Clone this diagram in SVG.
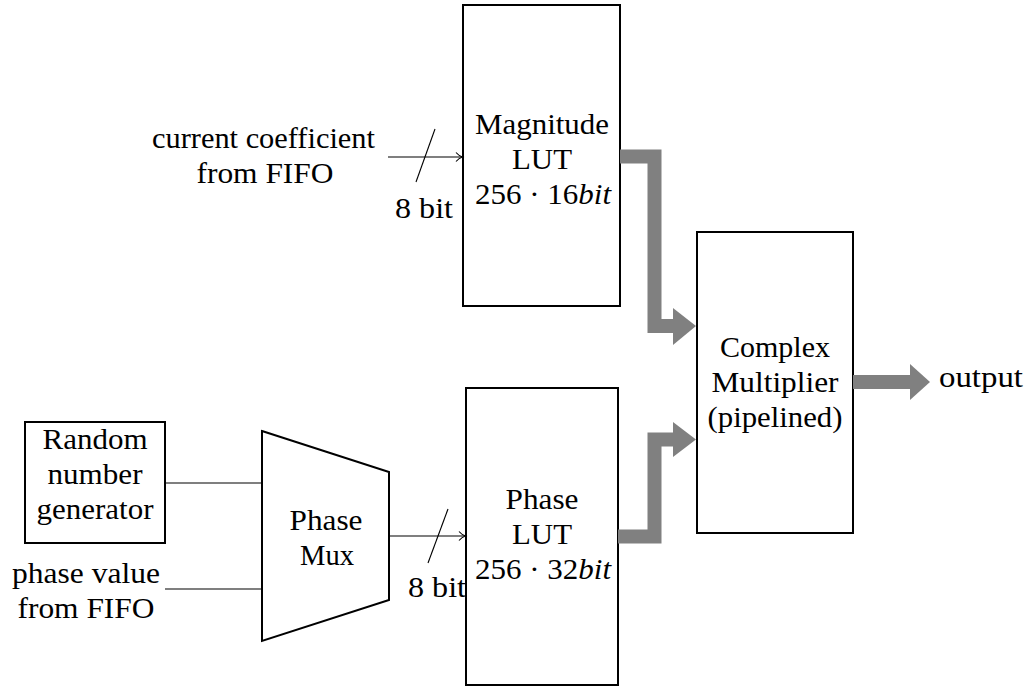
<svg xmlns="http://www.w3.org/2000/svg" width="1031" height="687" viewBox="0 0 1031 687" font-family="'Liberation Serif', 'Times New Roman', serif">
<style>
text{font-family:"Liberation Serif","Times New Roman",serif;font-size:28.5px;fill:#000;text-anchor:middle}
.box{fill:#fff;stroke:#000;stroke-width:2}
.thin{fill:none;stroke:#000;stroke-width:1.1}
.bus{fill:none;stroke:#808080;stroke-width:14}
.head{fill:#808080;stroke:none}
</style>
<defs>
<marker id="to" markerWidth="12" markerHeight="12" refX="9" refY="6" orient="auto" markerUnits="userSpaceOnUse">
<path d="M3,1.5 Q6,5 9.5,6 Q6,7 3,10.5" fill="none" stroke="#000" stroke-width="1.1"/>
</marker>
</defs>
<g id="magnitude-lut">
<rect class="box" x="463" y="5" width="157" height="301"/>
<text x="542" y="134" textLength="134" lengthAdjust="spacingAndGlyphs">Magnitude</text>
<text x="542" y="169" textLength="60" lengthAdjust="spacingAndGlyphs">LUT</text>
<text x="543" y="204" textLength="136" lengthAdjust="spacingAndGlyphs">256 · 16<tspan font-style="italic">bit</tspan></text>
</g>
<g id="phase-lut">
<rect class="box" x="466" y="388" width="152" height="297"/>
<text x="542" y="509" textLength="73" lengthAdjust="spacingAndGlyphs">Phase</text>
<text x="542" y="544" textLength="60" lengthAdjust="spacingAndGlyphs">LUT</text>
<text x="543" y="579" textLength="136" lengthAdjust="spacingAndGlyphs">256 · 32<tspan font-style="italic">bit</tspan></text>
</g>
<g id="complex-multiplier">
<rect class="box" x="697" y="232" width="156" height="301"/>
<text x="775" y="357" textLength="110" lengthAdjust="spacingAndGlyphs">Complex</text>
<text x="775" y="392" textLength="127" lengthAdjust="spacingAndGlyphs">Multiplier</text>
<text x="775" y="427" textLength="135" lengthAdjust="spacingAndGlyphs">(pipelined)</text>
</g>
<g id="rng">
<rect class="box" x="25" y="422" width="140" height="121"/>
<text x="95" y="449" textLength="105" lengthAdjust="spacingAndGlyphs">Random</text>
<text x="95" y="484" textLength="95" lengthAdjust="spacingAndGlyphs">number</text>
<text x="95" y="519" textLength="117" lengthAdjust="spacingAndGlyphs">generator</text>
</g>
<g id="phase-mux">
<polygon class="box" points="262,431 389,472 389,600 262,641"/>
<text x="326" y="530" textLength="73" lengthAdjust="spacingAndGlyphs">Phase</text>
<text x="327" y="565" textLength="54" lengthAdjust="spacingAndGlyphs">Mux</text>
</g>
<g id="labels">
<text x="263.5" y="148" textLength="223" lengthAdjust="spacingAndGlyphs">current coefficient</text>
<text x="265" y="183" textLength="137" lengthAdjust="spacingAndGlyphs">from FIFO</text>
<text x="86" y="583" textLength="148" lengthAdjust="spacingAndGlyphs">phase value</text>
<text x="86" y="618" textLength="137" lengthAdjust="spacingAndGlyphs">from FIFO</text>
<text x="981" y="387" textLength="84" lengthAdjust="spacingAndGlyphs">output</text>
<text x="424" y="218" textLength="58" lengthAdjust="spacingAndGlyphs">8 bit</text>
<text x="437" y="597" textLength="58" lengthAdjust="spacingAndGlyphs">8 bit</text>
</g>
<g id="connectors">
<line class="thin" x1="388" y1="157" x2="462" y2="157" marker-end="url(#to)"/>
<line class="thin" x1="416" y1="182" x2="435" y2="129"/>
<line class="thin" x1="390" y1="536" x2="465" y2="536" marker-end="url(#to)"/>
<line class="thin" x1="428" y1="563" x2="448" y2="509"/>
<line class="thin" x1="165" y1="483" x2="262" y2="483"/>
<line class="thin" x1="165" y1="589" x2="262" y2="589"/>
<path class="bus" d="M620,156.5 H654.5 V326 H674"/>
<polygon class="head" points="673,308 696,326 673,345"/>
<path class="bus" d="M618,536.5 H654.5 V439.5 H674"/>
<polygon class="head" points="673,422 696,439.5 673,457"/>
<line class="bus" x1="853" y1="382" x2="911" y2="382"/>
<polygon class="head" points="910,364 930,382 910,400"/>
</g>
</svg>
